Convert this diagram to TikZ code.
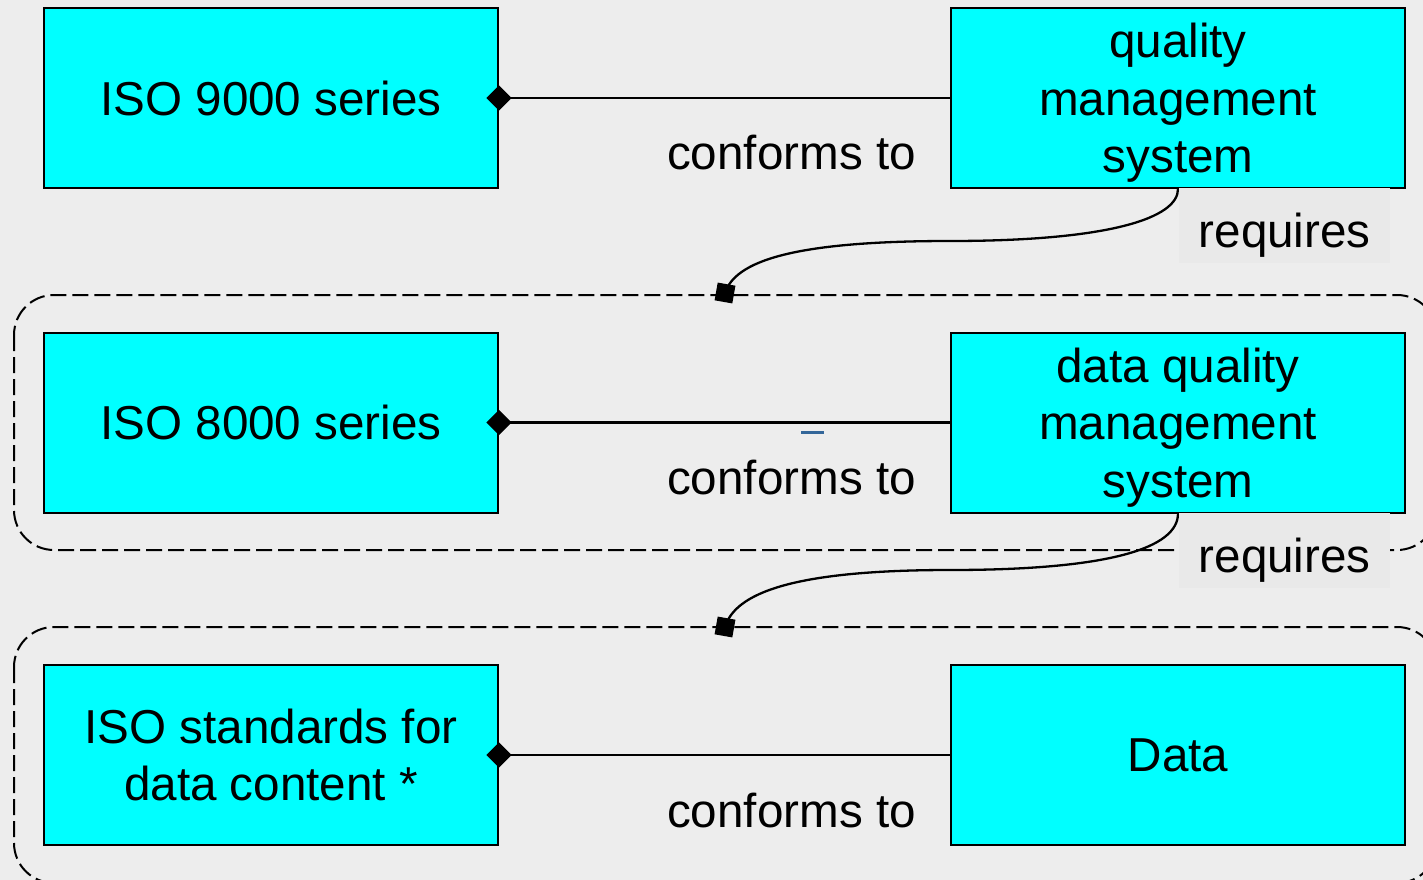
\documentclass[tikz,border=0pt]{standalone}
\usepackage{fontspec}
\setmainfont{Liberation Sans}
\usetikzlibrary{shapes.geometric,positioning}
\definecolor{bggray}{HTML}{EDEDED}
\definecolor{reqgray}{HTML}{E9E9E9}
\definecolor{boxcyan}{HTML}{00FFFF}
\definecolor{markblue}{HTML}{336699}

\begin{document}
\begin{tikzpicture}[x=1pt,y=-1pt,line width=2.3pt,
    box/.style={rectangle,draw,line width=2pt,fill=boxcyan,minimum width=454pt,
                minimum height=180pt,align=center,font=\fontsize{47.6}{57.5}\selectfont},
    tallbox/.style={box,text depth=0pt},
    lbl/.style={font=\fontsize{47.6}{57.5}\selectfont,inner sep=0pt},
    dia/.style={diamond,fill=black,inner sep=0pt,minimum size=26pt},
    sqmark/.style={rectangle,fill=black,inner sep=0pt,minimum size=18pt,rotate=-10},
    req/.style={lbl,fill=reqgray,minimum width=211pt,minimum height=75pt,
                text height=54pt,anchor=north west},
    group/.style={line width=2pt,dash pattern=on 16pt off 6pt,rounded corners=40pt}]

  \useasboundingbox (0,0) rectangle (1423,880);
  \fill[bggray] (0,0) rectangle (1423,880);
  \clip (0,0) rectangle (1423,880);

  % groups
  \draw[group] (14,295) rectangle (1437,550);
  \draw[group] (14,627) rectangle (1437,883);

  % boxes
  \node[box] (iso9000) at (271,98) {ISO 9000 series};
  \node[tallbox] (qms) at (1178,98) {quality\\management\\system};
  \node[box] (iso8000) at (271,422.5) {ISO 8000 series};
  \node[tallbox] (dqms) at (1178,422.5) {data quality\\management\\system};
  \node[box] (isodata) at (271,755) {ISO standards for\\data content *};
  \node[box] (data) at (1178,755) {Data};

  % conforms to
  \node[dia] (d1) at (iso9000.east) {};
  \node[dia] (d2) at (iso8000.east) {};
  \node[dia] (d3) at (isodata.east) {};
  \draw (d1.center) -- (qms.west)
    node[lbl,anchor=east,xshift=-33pt,yshift=-55pt] {conforms to};
  \draw (d2.center) -- (dqms.west)
    node[lbl,anchor=east,xshift=-33pt,yshift=-55pt] {conforms to};
  \draw (d3.center) -- (data.west)
    node[lbl,anchor=east,xshift=-33pt,yshift=-55pt] {conforms to};
  \fill[markblue] (801,431) rectangle (824,434);

  % requires
  \node[sqmark] (s1) at (725,293) {};
  \node[sqmark] (s2) at (725,627) {};
  \draw (qms.south) .. controls (1178,218) and (1110,241) .. (950,241)
    .. controls (790,241) and (735,262) .. (s1.center);
  \draw (dqms.south) .. controls (1178,548) and (1110,570) .. (950,570)
    .. controls (790,570) and (735,594) .. (s2.center);
  \node[req] (r1) at ([yshift=2pt]qms.south) {requires};
  \node[req] (r2) at ([yshift=2pt]dqms.south) {requires};
\end{tikzpicture}
\end{document}
